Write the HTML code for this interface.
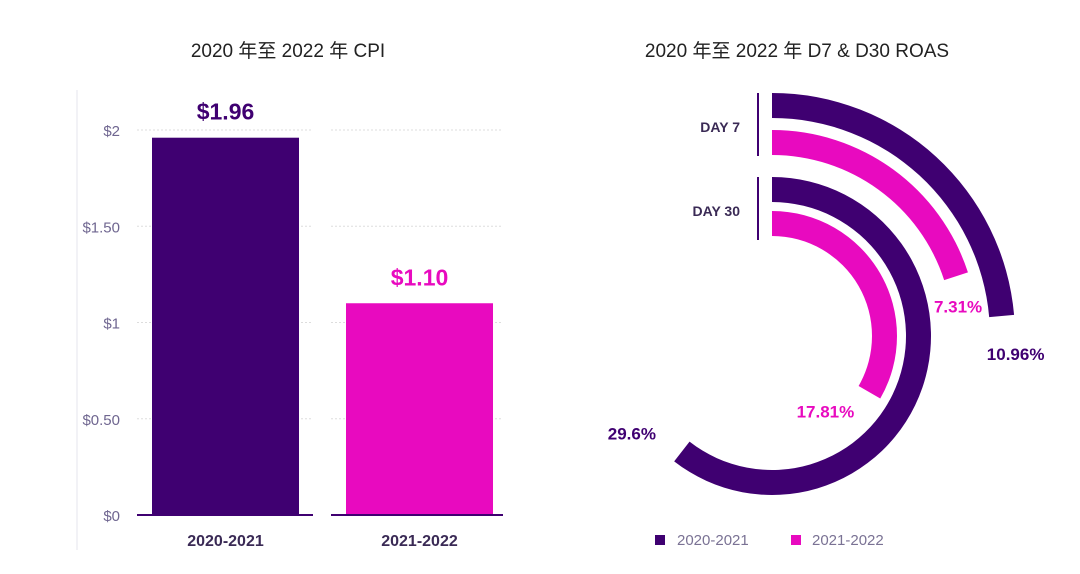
<!DOCTYPE html>
<html><head><meta charset="utf-8">
<style>
body{margin:0;background:#fff;width:1080px;height:569px;overflow:hidden;font-family:"Liberation Sans","Noto Sans CJK SC",sans-serif}
svg text{font-family:"Liberation Sans","Noto Sans CJK SC",sans-serif}
</style></head>
<body>
<svg id="c" width="1080" height="569">
<text x="288" y="57" text-anchor="middle" font-size="19" fill="#222">2020 年至 2022 年 CPI</text>
<text x="797" y="57" text-anchor="middle" font-size="19" fill="#222">2020 年至 2022 年 D7 &amp; D30 ROAS</text>
<line x1="77" y1="90" x2="77" y2="550" stroke="#e6e6ee" stroke-width="1"/>
<g id="bars"></g>
<g id="radial"></g>
<rect x="655" y="535" width="10" height="10" fill="#3f0071"/>
<text x="677" y="545" font-size="15" fill="#7a7294">2020-2021</text>
<rect x="791" y="535" width="10" height="10" fill="#e80abf"/>
<text x="812" y="545" font-size="15" fill="#7a7294">2021-2022</text>
</svg>
<script>
const categories=["2020-2021","2021-2022"];
const cpiValues=[1.96,1.10];
const cpiLabels=["$1.96","$1.10"];
const yTicks=[0,0.5,1,1.5,2];
const yTickLabels=["$0","$0.50","$1","$1.50","$2"];
const roasGroups=["DAY 7","DAY 30"];
const roas2021=[10.96,29.6];
const roas2022=[7.31,17.81];
const roasLabels2021=["10.96%","29.6%"];
const roasLabels2022=["7.31%","17.81%"];

const NS="http://www.w3.org/2000/svg";
const colors=["#3f0071","#e80abf"];
function mk(p,t,a){const e=document.createElementNS(NS,t);for(const k in a)e.setAttribute(k,a[k]);p.appendChild(e);return e;}
const y=v=>515-v*192.5;
const slots=[[137,313],[331,503]];
const bars=document.getElementById('bars');
yTicks.forEach((t,i)=>{
  slots.forEach(s=>{
    if(t>0){const g=mk(bars,'line',{x1:s[0],x2:s[1],y1:y(t),y2:y(t),stroke:'#ddd','stroke-dasharray':'2,2'});
    
    }
  });
  const l=mk(bars,'text',{x:120,y:y(t)+6,'text-anchor':'end','font-size':15,fill:'#6f6690'});
  l.textContent=yTickLabels[i];
  
  
});
categories.forEach((c,i)=>{
  const s=slots[i];const bx=s[0]+15,bw=147;
  const r=mk(bars,'rect',{x:bx,y:y(cpiValues[i]),width:bw,height:515-y(cpiValues[i]),fill:colors[i]});
  
  
  const b=mk(bars,'line',{x1:s[0],x2:s[1],y1:515,y2:515,stroke:'#3f0071','stroke-width':2});
  
  
  const v=mk(bars,'text',{x:bx+bw/2,y:y(cpiValues[i])-18,'text-anchor':'middle','font-size':23,'font-weight':'bold',fill:colors[i]});
  v.textContent=cpiLabels[i];
  
  
  const cl=mk(bars,'text',{x:bx+bw/2,y:546,'text-anchor':'middle','font-size':16,'font-weight':'bold',fill:'#3a2a55'});
  cl.textContent=c;
  
  
});

// radial
const cx=772,cy=336;
const radii=[[243,206],[159,125]];
const thick=25;
// per-group angle scale: deg = offset + k*value
const scaleK=[3.56,8.31],scaleA=[46,-28];
const ang=(g,v)=>scaleA[g]+scaleK[g]*v;
const rad=document.getElementById('radial');
function arc(ro,ri,deg){
  const a=deg*Math.PI/180;const large=deg>180?1:0;
  const p=(r,t)=>[cx+r*Math.sin(t),cy-r*Math.cos(t)];
  const [x1,y1]=p(ro,0),[x2,y2]=p(ro,a),[x3,y3]=p(ri,a),[x4,y4]=p(ri,0);
  return `M${x1},${y1}A${ro},${ro} 0 ${large} 1 ${x2},${y2}L${x3},${y3}A${ri},${ri} 0 ${large} 0 ${x4},${y4}Z`;
}
const labelOff=[[[14,44],[2,36]],[[-50,-12],[-44,25]]];
roasGroups.forEach((g,gi)=>{
  [roas2021,roas2022].forEach((series,si)=>{
    const ro=radii[gi][si],d=ang(gi,series[gi]);
    const p=mk(rad,'path',{d:arc(ro,ro-thick,d),fill:colors[si]});
    
    
    const a=d*Math.PI/180,rm=ro-thick/2;
    const ex=cx+rm*Math.sin(a),ey=cy-rm*Math.cos(a);
    const t=mk(rad,'text',{x:ex+labelOff[gi][si][0],y:ey+labelOff[gi][si][1],'text-anchor':'middle','font-size':17,'font-weight':'bold',fill:colors[si]});
    t.textContent=(si?roasLabels2022:roasLabels2021)[gi];
    
    
  });
  const top=cy-radii[gi][0];
  const ln=mk(rad,'line',{x1:758,x2:758,y1:top,y2:top+63,stroke:'#3f0071','stroke-width':2});
  
  
  const gl=mk(rad,'text',{x:740,y:top+39,'text-anchor':'end','font-size':14,'font-weight':'bold',fill:'#3a2a55'});
  gl.textContent=g;
  
  
});
</script>
</body></html>
